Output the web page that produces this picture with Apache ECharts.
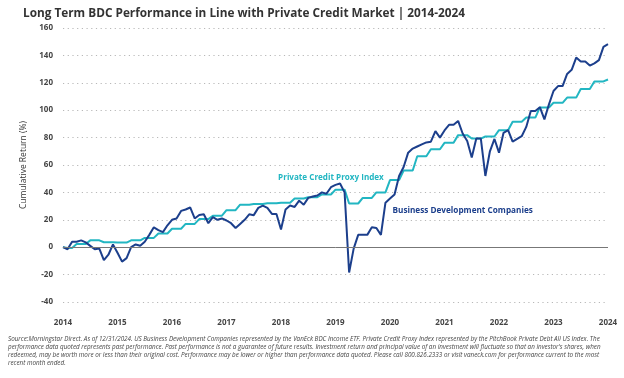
<!DOCTYPE html>
<html>
<head>
<meta charset="utf-8">
<script src="https://cdn.jsdelivr.net/npm/echarts@6/dist/echarts.min.js"></script>
<style>html,body{margin:0;padding:0;background:#fff;}#c{width:624px;height:378px;}</style>
</head>
<body>
<div id="c"></div>
<script>
// Tick labels (one per year, month-end data from start)
const yearLabels = ['2014','2015','2016','2017','2018','2019','2020','2021','2022','2023','2024'];

// Business Development Companies, cumulative return (%), monthly
const bdc = [
  0, -1.5, 4, 4, 5, 3.5, 1, -1.5, -1, -9.5, -5.5, 2,
  -4, -10.5, -8, 0, 2, 1, 4, 9, 14.5, 12.5, 11, 16,
  20, 21, 26.5, 27.5, 29, 21, 23.5, 24, 17.5, 22, 20, 21,
  19.5, 17.5, 14, 17, 20, 24, 23.4, 28.7, 30.4, 28.7, 24.3, 24.3,
  12.9, 27.5, 30.4, 29.4, 34, 31, 36, 37, 37.7, 40, 39, 43.8,
  45.5, 46.5, 40, -18.5, -1, 9, 9, 9, 14.5, 14, 9, 32.5,
  35.5, 38.5, 52, 58.5, 69, 72, 73.5, 75, 76.5, 77, 84.7, 80,
  85.2, 89.3, 89.3, 92.2, 83, 77.5, 65.5, 79.3, 79.3, 52, 70, 79,
  69, 83.5, 85.4, 77, 79, 81, 87.8, 99.4, 99.4, 102.2, 93.3, 104.3,
  114, 117.6, 117.6, 126.5, 129.5, 138.4, 135.5, 135.5, 132.6, 134.2, 136.5, 146.2,
  148.2
];

// Private Credit Proxy Index, cumulative return (%), monthly
const pcpi = [
  0, -0.5, -0.5, 2.4, 2.4, 2.4, 5, 5, 5, 3.6, 3.6, 3.6,
  3.4, 3.4, 3.4, 5, 5, 5, 6.8, 6.8, 6.8, 10, 10, 10,
  13.5, 13.5, 13.5, 17, 17, 17, 20.5, 20.5, 20.5, 23, 23, 23,
  27, 27, 27, 31, 31, 31, 31.5, 31.5, 31.5, 32, 32, 32,
  32.5, 32.5, 32.5, 35.5, 35.5, 35.5, 36.5, 36.5, 36.5, 38.5, 38.5, 38.5,
  42, 42, 42, 31.9, 31.9, 31.9, 36, 36, 36, 40, 40, 40,
  49, 49, 49, 56, 56, 56, 66.4, 66.4, 66.4, 71.5, 71.5, 71.5,
  76.2, 76.2, 76.2, 81.8, 81.8, 81.8, 79.3, 79.3, 79.3, 80.8, 80.8, 80.8,
  85.4, 85.4, 85.4, 91.5, 91.5, 91.5, 94.6, 94.6, 94.6, 102, 102, 102,
  105.4, 105.4, 105.4, 109.2, 109.2, 109.2, 115.5, 115.5, 115.5, 121, 121, 121,
  122.4
];

const seriesNames = ['Business Development Companies', 'Private Credit Proxy Index'];
const titleText = 'Long Term BDC Performance in Line with Private Credit Market | 2014-2024';
const yAxisName = 'Cumulative Return (%)';
const footnoteLines = [
  'Source:Morningstar Direct. As of 12/31/2024. US Business Development Companies represented by the VanEck BDC Income ETF. Private Credit Proxy Index represented by the PitchBook Private Debt All US Index. The',
  "performance data quoted represents past performance. Past performance is not a guarantee of future results. Investment return and principal value of an investment will fluctuate so that an investor's shares, when",
  'redeemed, may be worth more or less than their original cost. Performance may be lower or higher than performance data quoted. Please call 800.826.2333 or visit vaneck.com for performance current to the most',
  'recent month ended.'
];

// month categories (12 per year label)
const months = [];
for (let i = 0; i < bdc.length; i++) months.push(String(i));

const FONT = '"Open Sans", sans-serif';
const chart = echarts.init(document.getElementById('c'), null, {renderer: 'canvas'});
chart.setOption({
  animation: false,
  backgroundColor: '#fff',
  textStyle: {fontFamily: FONT},
  title: {
    text: titleText,
    left: 18, top: 3,
    textStyle: {fontFamily: FONT, fontSize: 11.8, fontWeight: 'bold', color: '#333'}
  },
  grid: {left: 63, right: 16, top: 28, bottom: 76},
  xAxis: {
    type: 'category',
    data: months,
    boundaryGap: false,
    axisLine: {show: false},
    axisTick: {show: false},
    splitLine: {show: false},
    axisLabel: {
      interval: 11,
      margin: 17,
      fontFamily: FONT, fontSize: 8, fontWeight: 'bold', color: '#444',
      formatter: (v, idx) => yearLabels[Math.round(idx / 12)]
    }
  },
  yAxis: {
    type: 'value',
    min: -40, max: 160, interval: 20,
    name: yAxisName,
    nameLocation: 'middle',
    nameGap: 27,
    nameTextStyle: {fontFamily: FONT, fontSize: 8.5, color: '#333'},
    axisLine: {show: false},
    axisTick: {show: false},
    axisLabel: {margin: 10, fontFamily: FONT, fontSize: 8, fontWeight: 'bold', color: '#444'},
    splitLine: {lineStyle: {type: [1.2, 3.5], color: '#b8b8b8', width: 1}}
  },
  series: [
    {
      name: seriesNames[1],
      type: 'line',
      data: pcpi,
      symbol: 'none',
      lineStyle: {color: '#22b6c2', width: 2},
      z: 2,
      markLine: {
        silent: true, symbol: 'none',
        label: {show: false},
        lineStyle: {color: '#777', width: 1, type: 'solid'},
        data: [{yAxis: 0}]
      },
      markPoint: {
        symbol: 'circle', symbolSize: 0, silent: true,
        label: {show: true, position: 'inside', formatter: seriesNames[1],
          fontFamily: FONT, fontSize: 8.1, fontWeight: 'bold', color: '#22b6c2'},
        data: [{coord: [59, 51]}]
      }
    },
    {
      name: seriesNames[0],
      type: 'line',
      data: bdc,
      symbol: 'none',
      lineStyle: {color: '#1c3f8c', width: 2},
      z: 3,
      markPoint: {
        symbol: 'circle', symbolSize: 0, silent: true,
        label: {show: true, position: 'inside', formatter: seriesNames[0],
          fontFamily: FONT, fontSize: 8.2, fontWeight: 'bold', color: '#1c3f8c'},
        data: [{coord: [88, 27]}]
      }
    }
  ],
  graphic: [{
    type: 'text',
    left: 8, top: 335,
    style: {
      text: footnoteLines.join('\n'),
      fontFamily: FONT, fontSize: 6.3, fontStyle: 'italic', lineHeight: 8, fill: '#444'
    }
  }]
});
</script>
</body>
</html>
